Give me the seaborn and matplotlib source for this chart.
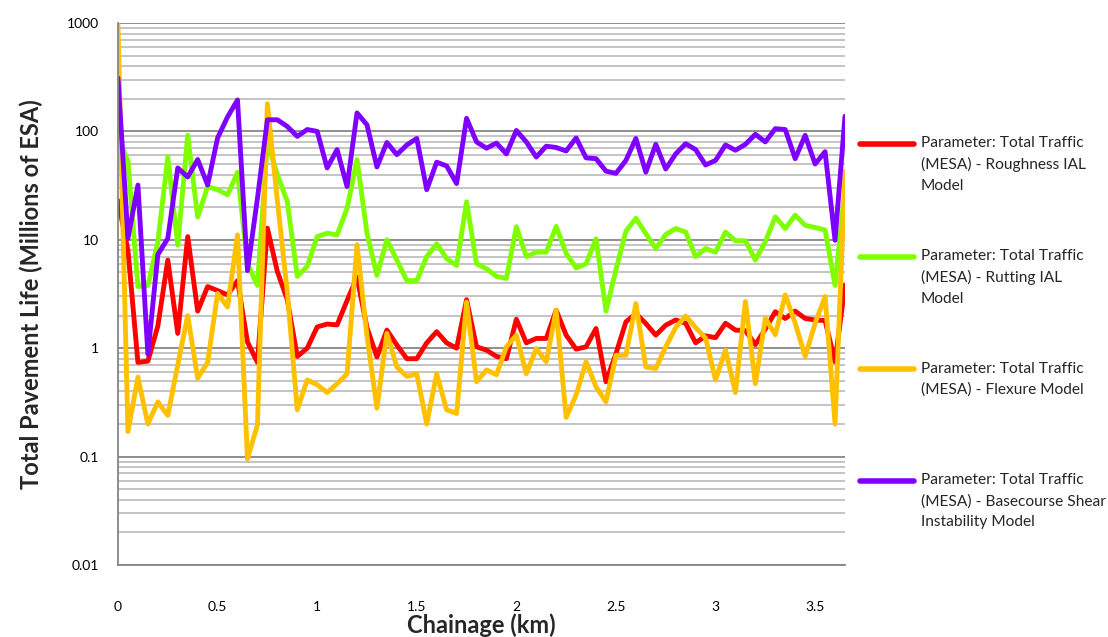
import numpy as np
import pandas as pd
import seaborn as sns
import matplotlib.pyplot as plt
from matplotlib.lines import Line2D
from matplotlib.ticker import FixedLocator, FixedFormatter, LogLocator, NullFormatter

# chainage (km) of every test point
chainage = [0.00, 0.05, 0.10, 0.15, 0.20, 0.25, 0.30, 0.35, 0.40, 0.45,
            0.50, 0.55, 0.60, 0.65, 0.70, 0.75, 0.80, 0.85, 0.90, 0.95,
            1.00, 1.05, 1.10, 1.15, 1.20, 1.25, 1.30, 1.35, 1.40, 1.45,
            1.50, 1.55, 1.60, 1.65, 1.70, 1.75, 1.80, 1.85, 1.90, 1.95,
            2.00, 2.05, 2.10, 2.15, 2.20, 2.25, 2.30, 2.35, 2.40, 2.45,
            2.50, 2.55, 2.60, 2.65, 2.70, 2.75, 2.80, 2.85, 2.90, 2.95,
            3.00, 3.05, 3.10, 3.15, 3.20, 3.25, 3.30, 3.35, 3.40, 3.45,
            3.50, 3.55, 3.60, 3.65]

# total pavement life, millions of ESA
roughness = [23, 8, 0.74, 0.76, 1.6, 6.5, 1.37, 10.7, 2.2, 3.7,
             3.4, 3.1, 4.2, 1.14, 0.74, 12.8, 5.1, 2.8, 0.84, 1.0,
             1.57, 1.67, 1.64, 2.75, 4.5, 1.55, 0.83, 1.47, 1.07, 0.8,
             0.8, 1.12, 1.42, 1.12, 1.0, 2.8, 1.03, 0.96, 0.84, 0.8,
             1.85, 1.12, 1.23, 1.23, 2.24, 1.32, 0.98, 1.03, 1.52, 0.49,
             0.89, 1.75, 2.09, 1.69, 1.32, 1.63, 1.82, 1.7, 1.12, 1.3,
             1.25, 1.7, 1.47, 1.45, 1.08, 1.5, 2.17, 1.88, 2.2, 1.88,
             1.82, 1.8, 0.75, 3.8]

rutting = [90, 53, 3.7, 3.8, 9.5, 58, 8.9, 92, 16.2, 31,
           29, 26, 42, 6.0, 3.8, 80, 40, 22.5, 4.6, 5.7,
           10.7, 11.5, 11.1, 19.5, 55, 11.5, 4.7, 10, 6.5, 4.2,
           4.2, 7.0, 9.2, 6.7, 5.8, 22.4, 6.0, 5.4, 4.6, 4.4,
           13.2, 7.0, 7.7, 7.7, 13.3, 7.5, 5.5, 6.0, 10.2, 2.2,
           5.3, 12.0, 15.8, 11.4, 8.3, 11.2, 12.7, 11.8, 7.0, 8.3,
           7.7, 11.8, 9.8, 9.8, 6.5, 9.6, 16.3, 12.7, 16.9, 13.6,
           13.0, 12.3, 3.8, 30]

flexure = [950, 0.17, 0.54, 0.2, 0.32, 0.24, 0.7, 2.0, 0.53, 0.74,
           3.2, 2.4, 11.1, 0.095, 0.196, 180, 23, 3.3, 0.27, 0.51,
           0.46, 0.39, 0.47, 0.58, 9.0, 1.3, 0.28, 1.37, 0.67, 0.55,
           0.58, 0.2, 0.58, 0.27, 0.25, 2.67, 0.49, 0.63, 0.57, 1.03,
           1.32, 0.58, 0.99, 0.75, 2.24, 0.23, 0.37, 0.75, 0.44, 0.32,
           0.86, 0.86, 2.58, 0.67, 0.65, 1.03, 1.55, 1.98, 1.55, 1.24,
           0.51, 0.96, 0.39, 2.7, 0.47, 1.89, 1.33, 3.1, 1.7, 0.84,
           1.7, 3.0, 0.2, 43]

basecourse = [310, 10.3, 32, 0.88, 7.3, 10.3, 46, 38, 55, 32,
              87, 136, 195, 5.2, 24, 128, 128, 111, 90, 104,
              100, 46, 68, 31, 148, 115, 47, 79, 61, 75,
              86, 29, 52, 48, 33, 132, 80, 70, 78, 62,
              102, 80, 58, 73, 71, 66, 87, 57, 56, 43,
              41, 54, 86, 42, 76, 45, 62, 77, 68, 49,
              54, 75, 67, 76, 94, 80, 106, 104, 56, 92,
              50, 65, 9.9, 138]

series_names = ['Parameter: Total Traffic (MESA) - Roughness IAL Model',
                'Parameter: Total Traffic (MESA) - Rutting IAL Model',
                'Parameter: Total Traffic (MESA) - Flexure Model',
                'Parameter: Total Traffic (MESA) - Basecourse Shear Instability Model']
legend_lines = [['Parameter: Total Traffic', '(MESA) - Roughness IAL', 'Model'],
                ['Parameter: Total Traffic', '(MESA) - Rutting IAL', 'Model'],
                ['Parameter: Total Traffic', '(MESA) - Flexure Model'],
                ['Parameter: Total Traffic', '(MESA) - Basecourse Shear', 'Instability Model']]
colors = ['#FF0000', '#80FF00', '#FFC000', '#8000FF']

y_ticks = [0.01, 0.1, 1, 10, 100, 1000]
y_ticklabels = ['0.01', '0.1', '1', '10', '100', '1000']
x_ticks = [0, 0.5, 1, 1.5, 2, 2.5, 3, 3.5]
x_ticklabels = ['0', '0.5', '1', '1.5', '2', '2.5', '3', '3.5']

wide = pd.DataFrame({'Chainage': chainage,
                     series_names[0]: roughness,
                     series_names[1]: rutting,
                     series_names[2]: flexure,
                     series_names[3]: basecourse})
df = wide.melt(id_vars='Chainage', var_name='Series', value_name='Life')

sns.set_style('white')
plt.rcParams['font.family'] = ['Lato', 'DejaVu Sans']

fig = plt.figure(figsize=(11.08, 6.37), dpi=100)
ax = fig.add_axes([118 / 1108, 1 - 565 / 637, (845 - 118) / 1108, (565 - 23) / 637])

palette = dict(zip(series_names, colors))
sns.lineplot(data=df, x='Chainage', y='Life', hue='Series', hue_order=series_names,
             palette=palette, linewidth=3.5, estimator=None, sort=False,
             legend=False, ax=ax)

ax.set_yscale('log')
ax.set_ylim(0.01, 1000)
ax.set_xlim(0, 3.65)
ax.yaxis.set_major_locator(FixedLocator(y_ticks))
ax.yaxis.set_major_formatter(FixedFormatter(y_ticklabels))
ax.yaxis.set_minor_locator(LogLocator(base=10, subs=np.arange(2, 10)))
ax.yaxis.set_minor_formatter(NullFormatter())
ax.xaxis.set_major_locator(FixedLocator(x_ticks))
ax.xaxis.set_major_formatter(FixedFormatter(x_ticklabels))

ax.set_axisbelow(True)
ax.grid(which='major', axis='y', color='#868686', linewidth=1.3)
ax.grid(which='minor', axis='y', color='#bfbfbf', linewidth=1.3)
ax.grid(which='both', axis='x', visible=False)

for side in ['top', 'right']:
    ax.spines[side].set_visible(False)
for side in ['left', 'bottom']:
    ax.spines[side].set_color('#868686')
    ax.spines[side].set_linewidth(1.3)

ax.tick_params(axis='y', which='major', direction='out', length=4, width=1.2,
               color='#868686', labelsize=10, pad=10, labelcolor='black')
ax.tick_params(axis='y', which='minor', length=0)
ax.tick_params(axis='x', which='major', direction='out', length=0,
               labelsize=10, pad=26, labelcolor='black')

ax.set_xlabel('Chainage (km)', fontsize=17, fontweight='bold', labelpad=0)
ax.set_ylabel('Total Pavement Life (Millions of ESA)', fontsize=17,
              fontweight='bold', labelpad=16.5)

# each entry padded to five lines so the handle sits on the first text line
labels = []
for lines in legend_lines:
    padded = lines + [''] * (3 - len(lines))
    labels.append('\n'.join(['', ''] + padded))

handles = [Line2D([], [], color=c, linewidth=4) for c in colors]
leg = ax.legend(handles, labels, loc='center left',
                bbox_to_anchor=(860 / 1108, 1 - 312 / 637),
                bbox_transform=fig.transFigure, frameon=False,
                fontsize=11.2, handlelength=3.46, handletextpad=0.45,
                labelspacing=0.95, borderpad=0, borderaxespad=0)
for t in leg.get_texts():
    t.set_linespacing(1.6)

fig.savefig('out.png', dpi=100)
